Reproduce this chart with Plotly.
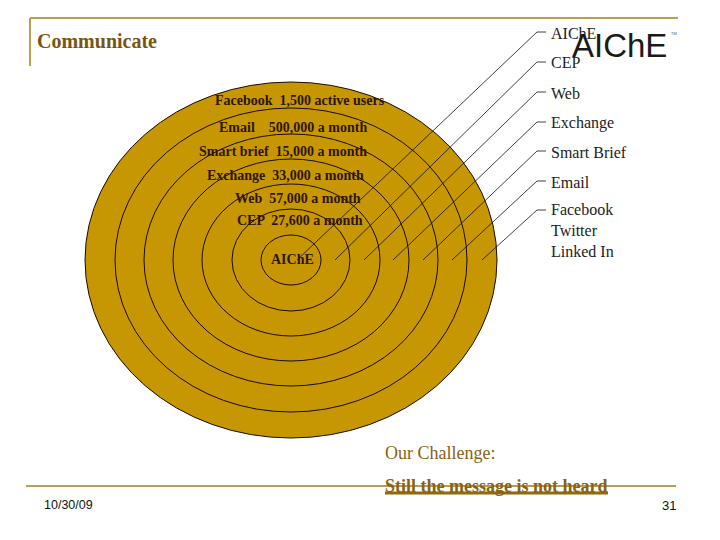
import plotly.graph_objects as go

# Concentric rings, outermost first (semi-axes)
ring_rx = [206, 176, 147, 118, 89, 59, 30]
ring_ry = [178, 152, 126, 101, 76, 51, 25]
center_x = 291
center_y = 260

# Text inside the rings
ring_labels = ["Facebook  1,500 active users", "Email\u00a0\u00a0\u00a0\u00a0500,000 a month", "Smart brief  15,000 a month",
               "Exchange  33,000 a month", "Web  57,000 a month", "CEP  27,600 a month", "AIChE"]
ring_label_right = [387, 369, 369, 366, 363, 365, 316]
ring_label_y = [100, 127, 151, 175, 198, 220, 259]

# Leader lines and their labels
leader_labels = ["AIChE", "CEP", "Web", "Exchange", "Smart Brief", "Email", "Facebook<br>Twitter<br>Linked In"]
leader_start_x = [297, 335, 364, 393, 423, 452, 482]
leader_y = [32, 62, 92, 122, 151, 181, 210]
leader_label_y = [33, 62, 93, 123, 152, 182, 230]
leader_start_y = 260
elbow_x = 537
leader_end_x = 546

GOLD = "#C79703"
RULE = "#B8A04A"
DARK = "#2E1500"
BROWN = "#8A6212"
SERIF = "Liberation Serif"

fig = go.Figure()

shapes = []
for rx, ry in zip(ring_rx, ring_ry):
    shapes.append(dict(type="circle", xref="x", yref="y", layer="below",
                       x0=center_x - rx, x1=center_x + rx, y0=center_y - ry, y1=center_y + ry,
                       fillcolor=GOLD, line=dict(color="#1A0A00", width=1)))

for sx, ly in zip(leader_start_x, leader_y):
    fig.add_trace(go.Scatter(x=[sx, elbow_x, leader_end_x], y=[leader_start_y, ly, ly], mode="lines",
                             line=dict(color="#111111", width=0.8), hoverinfo="skip", showlegend=False))

# Frame rules
for xs, ys in [([30, 678], [18, 18]), ([30, 30], [18, 66]), ([26, 676], [486, 486])]:
    fig.add_trace(go.Scatter(x=xs, y=ys, mode="lines", line=dict(color=RULE, width=2),
                             hoverinfo="skip", showlegend=False))
# Underline of the closing message
fig.add_trace(go.Scatter(x=[385, 608], y=[493, 493], mode="lines", line=dict(color="#8E6A0E", width=3),
                         hoverinfo="skip", showlegend=False))

ann = []
def T(x, y, s, size, color, anchor="left", bold=False, family=SERIF):
    ann.append(dict(x=x, y=y, xref="x", yref="y", text=f"<b>{s}</b>" if bold else s, showarrow=False,
                    xanchor=anchor, yanchor="middle", align="left",
                    font=dict(size=size, color=color, family=family)))

T(35, 41, "Communicate", 20, "#7A5512", bold=True)
for s, r, y in zip(ring_labels, ring_label_right, ring_label_y):
    T(r, y, s, 14, DARK, anchor="right", bold=True)
for s, y in zip(leader_labels, leader_label_y):
    T(549, y, s, 16, "#222222")
T(570, 45, "AIChE", 33, "#1A1A1A", family="Liberation Sans")
T(669, 33, "TM", 4, "#555555", family="Liberation Sans")
T(383, 453, "Our Challenge:", 18, BROWN)
T(383, 486, "Still the message is not heard", 18, BROWN, bold=True)
T(42, 505, "10/30/09", 12.5, "#111111", family="Liberation Sans")
T(678, 505, "31", 13, "#111111", anchor="right", family="Liberation Sans")

fig.update_layout(width=720, height=540, margin=dict(l=0, r=0, t=0, b=0), autosize=False,
                  paper_bgcolor="white", plot_bgcolor="white", shapes=shapes, annotations=ann,
                  xaxis=dict(range=[0, 720], visible=False, fixedrange=True),
                  yaxis=dict(range=[540, 0], visible=False, fixedrange=True))
fig.write_html("out.html", config=dict(displayModeBar=False),
               post_script="document.body.style.margin='0';document.documentElement.style.overflow='hidden';")
